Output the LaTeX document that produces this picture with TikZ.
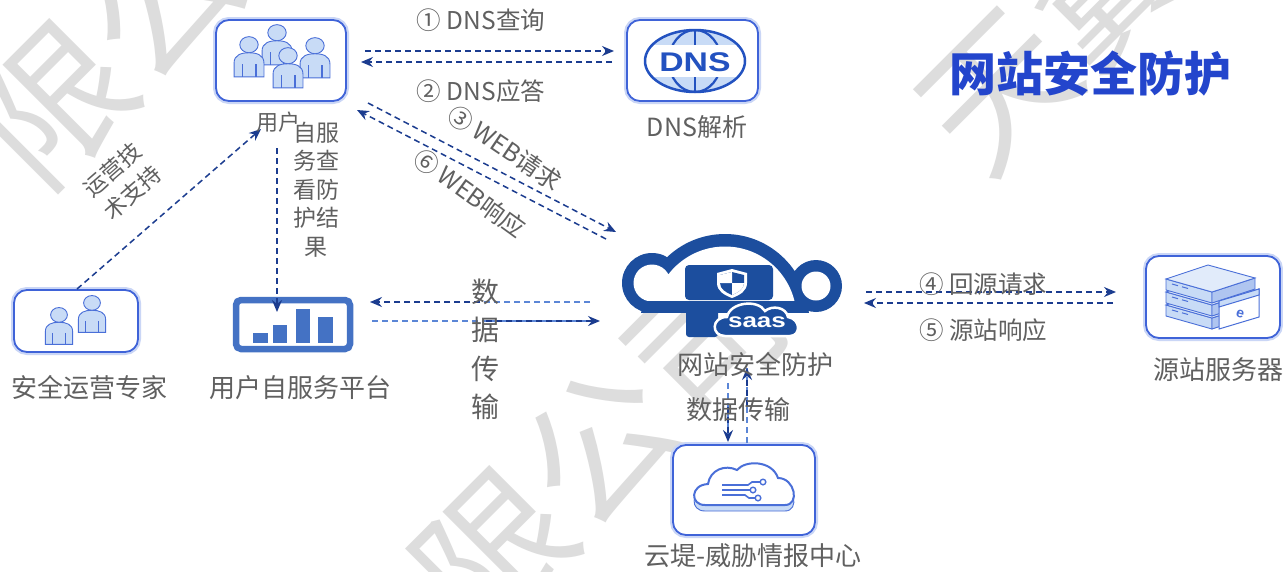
\documentclass[tikz,border=0pt]{standalone}
\usepackage{fontspec}
\setmainfont{Noto Sans CJK SC}
\newfontfamily\arialfont{Liberation Sans}
\usetikzlibrary{arrows.meta,calc}

\definecolor{navy}{HTML}{1B3C8F}
\definecolor{paleline}{HTML}{5B86D6}
\definecolor{boxln}{HTML}{3F63D8}
\definecolor{boxglow}{HTML}{CAD6F6}
\definecolor{figfill}{HTML}{C8DBF6}
\definecolor{figline}{HTML}{4A6FD8}
\definecolor{cloudblue}{HTML}{1C4E9E}
\definecolor{dnsblue}{HTML}{2352C0}
\definecolor{txtgray}{HTML}{606060}
\definecolor{titleblue}{HTML}{2345CC}
\definecolor{wmgray}{HTML}{DDDDDD}
\definecolor{barblue}{HTML}{4472C4}

\begin{document}
\begin{tikzpicture}[x=1pt,y=-1pt,
  iconbox/.style={draw=boxln, line width=1.8pt, rounded corners=13pt, fill=white,
    inner sep=0pt, outer sep=0pt, preaction={draw=boxglow, line width=6pt}},
  lbl/.style={text=txtgray, inner sep=0pt, outer sep=0pt, font=\fontsize{26}{30}\selectfont},
  albl/.style={text=txtgray, inner sep=0pt, outer sep=0pt, font=\fontsize{24.5}{28}\selectfont},
  flowline/.style={line width=1.5pt, dash pattern=on 6pt off 4pt},
  flow/.style={flowline, draw=navy, -{Stealth[length=12pt,width=10pt,inset=4pt]}},
  flowpale/.style={flowline, draw=paleline},
  wm/.style={text=wmgray, inner sep=0pt, font=\fontsize{150}{150}\selectfont, rotate=45},
  fig/.style={fill=figfill, draw=figline, line width=0.9pt},
  person/.pic={
    \path[fig] (-13,26) -- (-13,14) .. controls (-13,7) and (-7,5) .. (0,5)
      .. controls (7,5) and (13,7) .. (13,14) -- (13,26) -- cycle;
    \draw[figline, line width=1.2pt] (-6,15) -- (-6,26) (6,15) -- (6,26);
    \path[fig] (0,-2) ellipse (8 and 7);
  }
]
\useasboundingbox (0,0) rectangle (1283,571);
\fill[white] (0,0) rectangle (1283,571);

% background watermark
\begin{scope}
  \clip (0,0) rectangle (1283,571);
  \node[wm] (wm1) at (55,105) {限};
  \node[wm] (wm2) at (161,-1) {公};
  \node[wm] (wm3) at (495,552) {限};
  \node[wm] (wm4) at (601,446) {公};
  \node[wm] (wm5) at (707,340) {司};
  \node[wm] (wm6) at (1000,92) {天};
  \node[wm] (wm7) at (1106,-14) {翼};
\end{scope}

% title
\node[text=titleblue, inner sep=0pt, font=\fontsize{47}{50}\selectfont\bfseries] (title) at (1090,74) {网站安全防护};

% ---------- boxes ----------
\node[iconbox, minimum width=130pt, minimum height=81pt] (user) at (281,60.5) {};
\node[iconbox, minimum width=131pt, minimum height=81pt] (dns) at (692.5,60.5) {};
\node[iconbox, minimum width=124pt, minimum height=62pt] (expert) at (76,321) {};
\node[draw=barblue, line width=6.5pt, rounded corners=5pt, fill=white, inner sep=0pt, outer sep=0pt,
      minimum width=114pt, minimum height=49pt] (plat) at (293,324.5) {};
\node[iconbox, minimum width=134pt, minimum height=82pt] (server) at (1213,297) {};
\node[iconbox, minimum width=142pt, minimum height=90pt] (threat) at (744,490) {};
\node[inner sep=0pt, outer sep=0pt, minimum width=220pt, minimum height=110pt] (waf) at (732.5,283) {};

% user group figures
\pic[scale=1.15] at (277,35) {person};
\pic[scale=1.15] at (249,47) {person};
\pic[scale=1.15] at (315,48) {person};
\pic[scale=1.15] at (288,58) {person};

% expert figures
\pic[scale=1.05] at (92,305) {person};
\pic[scale=1.05] at (59,317) {person};

% DNS globe
\begin{scope}
  \clip (695,61) ellipse (50 and 31);
  \fill[figfill] (640,25) rectangle (750,97);
  \draw[dnsblue, line width=2.2pt] (695,61) ellipse (26 and 31);
  \draw[dnsblue, line width=2.2pt] (695,25) -- (695,97);
  \fill[white] (640,45) rectangle (750,77);
\end{scope}
\draw[dnsblue, line width=2.5pt] (695,61) ellipse (50 and 31);
\node[text=dnsblue, inner sep=0pt, font=\arialfont\bfseries\fontsize{27}{27}\selectfont, xscale=1.25] (dnsglyph) at (695,62) {DNS};

% platform bars
\fill[barblue] (253,333) rectangle (268,343);
\fill[barblue] (273,325) rectangle (287,343);
\fill[barblue] (296,309) rectangle (310,343);
\fill[barblue] (318,317) rectangle (333,343);

% server stack
\foreach \dy in {26,13,0}{
  \begin{scope}[yshift=-\dy pt]
    \path[fig] (1166,279) -- (1212,292) -- (1212,303) -- (1166,290) -- cycle;
    \path[fig, fill=figfill!80!figline] (1212,292) -- (1255,278) -- (1255,289) -- (1212,303) -- cycle;
    \path[fig, fill=figfill!55] (1166,279) -- (1208,265) -- (1255,278) -- (1212,292) -- cycle;
    \draw[figline, line width=1pt] (1172,284) -- (1178,285.7) (1182,286.8) -- (1188,288.5);
  \end{scope}
}
\path[fill=white, draw=figline, line width=1pt] (1219,301) -- (1259,289) -- (1259,317) -- (1219,329) -- cycle;
\path[fill=figfill, draw=figline, line width=1pt] (1219,301) -- (1259,289) -- (1259,295) -- (1219,307) -- cycle;
\node[text=figline, inner sep=0pt, rotate=-16, font=\arialfont\bfseries\fontsize{14}{14}\selectfont] (ielogo) at (1240,314) {e};

% threat intelligence cloud
\path[fig] (705,511) .. controls (690,511) and (690,491) .. (708,490)
  .. controls (710,476) and (725,470) .. (737,476)
  .. controls (745,466) and (772,466) .. (778,484)
  .. controls (795,484) and (800,511) .. (785,511) -- cycle;
\path[fill=white, draw=figline, line width=2pt] (705,505) .. controls (690,505) and (690,485) .. (708,484)
  .. controls (710,470) and (725,464) .. (737,470)
  .. controls (745,460) and (772,460) .. (778,478)
  .. controls (795,478) and (800,505) .. (785,505) -- cycle;
\draw[figline, line width=1.6pt] (722,485) -- (748,485) -- (752,482) -- (760,482)
  (722,490) -- (750,490)
  (722,495) -- (745,495) -- (749,498) -- (755,498);
\draw[figline, line width=1.4pt, fill=white] (763,482) circle (2.8) (753,490) circle (2.8) (758,498) circle (2.8);

% website protection cloud
\begin{scope}
  \clip (600,200) rectangle (860,312);
  \fill[cloudblue] (652,283) circle (30) (725,318) circle (84) (816,286) circle (26);
  \begin{scope}
    \clip (600,200) rectangle (860,300);
    \fill[white] (652,283) circle (18.5) (725,318) circle (71.5) (816,286) circle (14.5);
  \end{scope}
\end{scope}
\fill[cloudblue, rounded corners=4pt] (685,265) rectangle (773,300);
\fill[cloudblue, rounded corners=3pt] (686,305) rectangle (718,337);
\path[fill=cloudblue, draw=white, line width=2.5pt] (725,336) .. controls (711,336) and (711,317) .. (727,317)
  .. controls (730,302) and (758,299) .. (765,311)
  .. controls (772,305) and (786,307) .. (788,317)
  .. controls (801,319) and (801,336) .. (790,336) -- cycle;
\node[text=white, inner sep=0pt, xscale=1.3, font=\arialfont\bfseries\fontsize{20}{20}\selectfont] (saastxt) at (757,322) {saas};
% shield
\path[fill=white] (717,273) -- (732,269) -- (747,273) -- (747,283) .. controls (747,291) and (740,295) .. (732,298)
  .. controls (724,295) and (717,291) .. (717,283) -- cycle;
\begin{scope}
  \path[clip] (720,275) -- (732,272) -- (744,275) -- (744,283) .. controls (744,289) and (738,292.5) .. (732,295)
    .. controls (726,292.5) and (720,289) .. (720,283) -- cycle;
  \fill[cloudblue] (715,265) rectangle (750,300);
  \fill[white] (715,265) rectangle (732,283) (732,283) rectangle (750,300);
\end{scope}

% ---------- connectors ----------
% DNS query / answer
\draw[flow] ([shift={(19,-9.5)}]user.east) -- ([shift={(-13,-9.5)}]dns.west);
\draw[flow] ([shift={(-15,1.5)}]dns.west) -- ([shift={(15,1.5)}]user.east);
% web request / response
\draw[flow] ([shift={(22,2)}]user.south east) -- ([shift={(-6.5,4)}]waf.north west);
\draw[flow] ([shift={(-16.5,11)}]waf.north west) -- ([shift={(11,9)}]user.south east);
% operations support
\draw[flow] ([shift={(1,-1)}]expert.north) -- ([shift={(-20,28)}]user.south);
% self-service view
\draw[flow] ([shift={(-4,47)}]user.south) -- ([shift={(-16,12)}]plat.north);
% data transfer platform <-> cloud
\coordinate (d1s) at ([shift={(-32.5,19)}]waf.west);
\coordinate (d1e) at ([shift={(20,-22.5)}]plat.east);
\coordinate (d2s) at ([shift={(22,-3.5)}]plat.east);
\coordinate (d2e) at ([shift={(-22.5,38)}]waf.west);
\draw[flowpale] (d1s) -- (d1e);
\draw[flow] ($(d1s)!0.5!(d1e)$) -- (d1e);
\draw[flowpale] (d2s) -- (d2e);
\draw[flow] ($(d2s)!0.5!(d2e)$) -- (d2e);
% origin request / response
\draw[flow] ([shift={(23.5,9)}]waf.east) -- ([shift={(-30,-5)}]server.west);
\draw[flow] ([shift={(-33,6)}]server.west) -- ([shift={(21.5,20)}]waf.east);
% data transfer cloud <-> threat intelligence
\coordinate (v1s) at ([shift={(-4.5,45)}]waf.south);
\coordinate (v1e) at ([shift={(-16,-3)}]threat.north);
\coordinate (v2s) at ([shift={(3,-2)}]threat.north);
\coordinate (v2e) at ([shift={(14.5,30)}]waf.south);
\draw[flowpale] (v1s) -- (v1e);
\draw[flow] ($(v1s)!0.4!(v1e)$) -- (v1e);
\draw[flowpale] (v2s) -- (v2e);
\draw[flow] ($(v2s)!0.5!(v2e)$) -- (v2e);

% ---------- labels ----------
\node[albl, font=\fontsize{22}{26}\selectfont] (userlbl) at (278,122) {用户};
\node[lbl, font=\fontsize{25}{30}\selectfont] (dnslbl) at (697,127) {DNS解析};
\node[lbl] (wafLbl) at (755,364) {网站安全防护};
\node[lbl] (serverlbl) at (1218,370) {源站服务器};
\node[lbl] (expertlbl) at (90,388) {安全运营专家};
\node[lbl] (platlbl) at (300,388) {用户自服务平台};
\node[lbl] (threatlbl) at (753,556) {云堤-威胁情报中心};

\node[albl] (q1) at (481,20) {① DNS查询};
\node[albl] (q2) at (481,91) {② DNS应答};
\node[albl, rotate=-34] (q3) at (505,148) {③ WEB请求};
\node[albl, rotate=-36] (q6) at (470,193) {⑥ WEB响应};
\node[albl] (q4) at (983,284) {④ 回源请求};
\node[albl] (q5) at (983,330) {⑤ 源站响应};
\node[albl, align=center, rotate=41, font=\fontsize{22.5}{30.5}\selectfont] (ops) at (122,181) {运营技\\术支持};
\node[albl, align=center, font=\fontsize{23}{28.5}\selectfont, anchor=north] (selfsvc) at (316,122) {自服\\务查\\看防\\护结\\果};
\node[albl, align=center, font=\fontsize{28}{38.3}\selectfont, anchor=north] (datacol) at (485,279) {数\\据\\传\\输};
\node[lbl] (datarow) at (738,410) {数据传输};
\end{tikzpicture}
\end{document}
